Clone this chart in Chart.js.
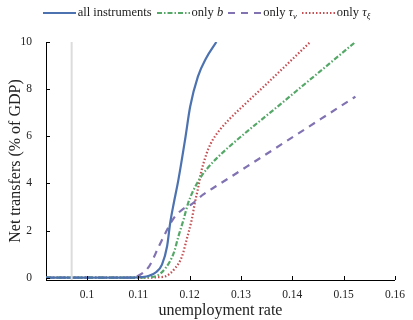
<!DOCTYPE html>
<html>
<head>
<meta charset="utf-8">
<script src="https://cdn.jsdelivr.net/npm/chart.js@4.4.1/dist/chart.umd.min.js"></script>
<style>
  body { margin: 0; background: #fff; }
  #wrap { position: relative; width: 413px; height: 320px; }
  #legend {
    position: absolute; top: 5px; left: 0; width: 413px;
    display: flex; justify-content: center;
    font-family: "Liberation Serif", serif; font-size: 12.5px; color: #222;
    white-space: nowrap; line-height: 15px;
  }
  .item { display: flex; align-items: center; margin: 0 2.5px; }
  .item svg { margin-right: 2px; }
  sub { font-size: 8.5px; vertical-align: -3px; line-height: 0; }
</style>
</head>
<body>
<div id="wrap">
  <canvas id="chart" width="413" height="320"></canvas>
  <div id="legend"></div>
</div>
<script>
// Data: unemployment rate (x) vs net transfers in % of GDP (y)
const allX  = [0.092, 0.109, 0.1105, 0.1121, 0.1135, 0.1146, 0.1156, 0.1162, 0.1169, 0.1178, 0.1191, 0.1201, 0.1216, 0.1232, 0.1252];
const allY  = [0, 0, 0.02, 0.08, 0.24, 0.55, 1.33, 2.32, 3.16, 4.15, 5.85, 7.26, 8.53, 9.31, 10.0];

const bX    = [0.092, 0.110, 0.1120, 0.1134, 0.1153, 0.1169, 0.1178, 0.1188, 0.1197, 0.1205, 0.1213, 0.1222, 0.1235, 0.1252, 0.1274, 0.1383, 0.1523];
const bY    = [0, 0, 0.02, 0.06, 0.41, 1.05, 1.75, 2.46, 3.16, 3.6, 3.95, 4.28, 4.65, 5.05, 5.5, 7.47, 10.0];

const tauvX = [0.092, 0.1075, 0.1085, 0.1098, 0.1121, 0.1140, 0.1156, 0.1169, 0.1185, 0.1204, 0.1226, 0.1261, 0.1312, 0.1523];
const tauvY = [0, 0, 0.01, 0.06, 0.48, 1.33, 2.03, 2.53, 2.88, 3.12, 3.52, 4.01, 4.72, 7.68];

const tauxX = [0.092, 0.112, 0.1140, 0.1153, 0.1172, 0.1185, 0.1194, 0.1204, 0.1210, 0.1217, 0.1222, 0.1229, 0.1236, 0.1245, 0.1258, 0.1274, 0.1312, 0.1344, 0.1435];
const tauxY = [0, 0, 0.02, 0.06, 0.41, 0.9, 1.61, 2.46, 3.16, 3.87, 4.45, 5.0, 5.45, 5.85, 6.25, 6.65, 7.45, 8.1, 10.0];

// light grey reference line
const refX = [0.097, 0.097];
const refY = [-0.1, 10];

const xTicks = [0.1, 0.11, 0.12, 0.13, 0.14, 0.15, 0.16];
const yTicks = [0, 2, 4, 6, 8, 10];

const series = [
    { label: 'all instruments', html: 'all instruments', x: allX, y: allY, color: '#4c72b0', dash: [], width: 2.2 },
    { label: 'only b', html: 'only <i>b</i>', x: bX, y: bY, color: '#55a868', dash: [5, 2, 1.5, 2], width: 2.2 },
    { label: 'only τv', html: 'only <i>τ</i><sub><i>v</i></sub>', x: tauvX, y: tauvY, color: '#8172b2', dash: [7, 6], width: 2.2 },
    { label: 'only τξ', html: 'only <i>τ</i><sub><i>ξ</i></sub>', x: tauxX, y: tauxY, color: '#c44e52', dash: [1.5, 2], width: 2.2 }
];

const toPoints = (xs, ys) => xs.map((x, i) => ({ x: x, y: ys[i] }));

const datasets = [{
    label: 'ref',
    data: toPoints(refX, refY),
    borderColor: '#dcdcdc',
    borderWidth: 2,
    pointRadius: 0
}];
series.forEach(s => {
    datasets.push({
        label: s.label,
        data: toPoints(s.x, s.y),
        borderColor: s.color,
        borderDash: s.dash,
        borderWidth: s.width,
        pointRadius: 0,
        cubicInterpolationMode: 'monotone'
    });
});

// inward tick marks like the original figure
const innerTicks = {
    id: 'innerTicks',
    afterDraw(chart) {
        const c = chart.ctx;
        const xs = chart.scales.x, ys = chart.scales.y;
        const area = chart.chartArea;
        c.save();
        c.strokeStyle = '#000';
        c.lineWidth = 1;
        c.beginPath();
        xTicks.forEach(v => {
            const px = Math.round(xs.getPixelForValue(v)) + 0.5;
            c.moveTo(px, area.bottom);
            c.lineTo(px, area.bottom - 4);
        });
        yTicks.forEach(v => {
            const py = Math.round(ys.getPixelForValue(v)) + 0.5;
            c.moveTo(area.left, py);
            c.lineTo(area.left + 4, py);
        });
        c.stroke();
        c.restore();
    }
};

Chart.defaults.font.family = '"Liberation Serif", serif';
Chart.defaults.color = '#222';

const ctx = document.getElementById('chart').getContext('2d');
new Chart(ctx, {
    type: 'line',
    data: { datasets: datasets },
    options: {
        responsive: false,
        animation: false,
        layout: { padding: { top: 42, right: 13, left: 0, bottom: 0 } },
        plugins: { legend: { display: false }, tooltip: { enabled: false } },
        scales: {
            x: {
                type: 'linear',
                min: 0.092,
                max: 0.16,
                afterBuildTicks: scale => { scale.ticks = xTicks.map(v => ({ value: v })); },
                afterFit: scale => { scale.height = 40; },
                grid: { display: false, drawTicks: false },
                border: { display: true, color: '#000', width: 1 },
                ticks: { font: { size: 11.5 }, padding: 8, maxRotation: 0, callback: v => String(v) },
                title: { display: true, text: 'unemployment rate', font: { size: 16 }, padding: { top: 0, bottom: 0 } }
            },
            y: {
                min: -0.1,
                max: 10,
                afterBuildTicks: scale => { scale.ticks = yTicks.map(v => ({ value: v })); },
                afterFit: scale => { scale.width = 46; },
                grid: { display: false, drawTicks: false },
                border: { display: true, color: '#000', width: 1 },
                ticks: { font: { size: 11.5 }, padding: 14 },
                title: { display: true, text: 'Net transfers (% of GDP)', font: { size: 16 }, padding: { top: 6, bottom: 0 } }
            }
        }
    },
    plugins: [innerTicks]
});

// legend built as html so the math labels keep italics and subscripts
const legend = document.getElementById('legend');
series.forEach(s => {
    const item = document.createElement('span');
    item.className = 'item';
    item.innerHTML =
        '<svg width="33" height="6"><line x1="0" y1="3" x2="33" y2="3" stroke="' + s.color +
        '" stroke-width="' + s.width + '" stroke-dasharray="' + (s.dash.length ? s.dash.join(',') : 'none') +
        '"/></svg><span>' + s.html + '</span>';
    legend.appendChild(item);
});
</script>
</body>
</html>
